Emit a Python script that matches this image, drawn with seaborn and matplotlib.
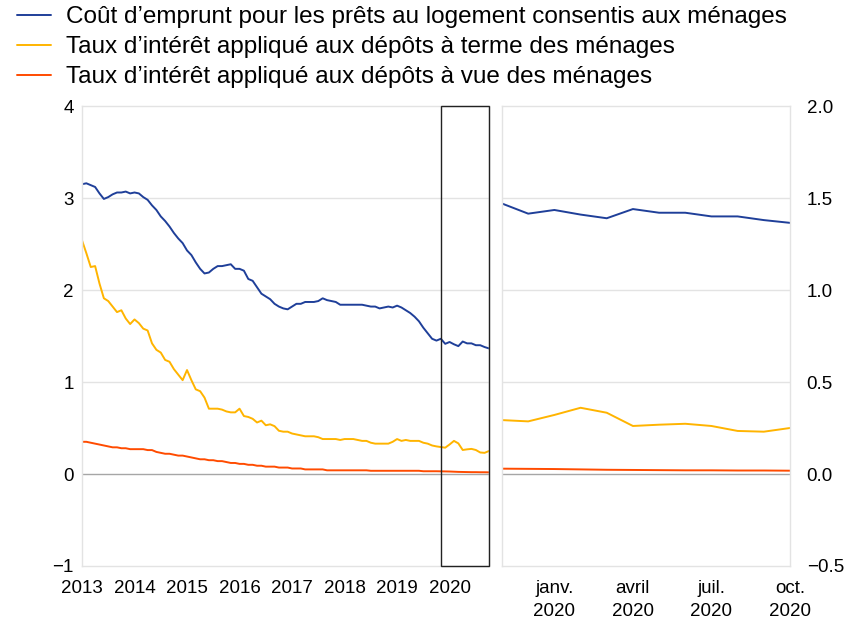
import matplotlib
matplotlib.use("Agg")
import matplotlib.pyplot as plt
from matplotlib.patches import Rectangle
import numpy as np
import pandas as pd
import seaborn as sns

# monthly data, Jan 2013 .. Oct 2020
start_year = 2013
series_names = [
    "Coût d\u2019emprunt pour les prêts au logement consentis aux ménages",
    "Taux d\u2019intérêt appliqué aux dépôts à terme des ménages",
    "Taux d\u2019intérêt appliqué aux dépôts à vue des ménages",
]
colors = ["#1f3f99", "#ffb400", "#ff4b00"]

loans = [
    3.15, 3.16, 3.14, 3.12, 3.05, 2.99, 3.01, 3.04, 3.06, 3.06, 3.07, 3.05,
    3.06, 3.05, 3.01, 2.98, 2.92, 2.87, 2.80, 2.75, 2.69, 2.62, 2.56, 2.51,
    2.43, 2.38, 2.30, 2.23, 2.18, 2.19, 2.23, 2.26, 2.26, 2.27, 2.28, 2.23,
    2.23, 2.21, 2.12, 2.10, 2.03, 1.96, 1.93, 1.90, 1.85, 1.82, 1.80, 1.79,
    1.82, 1.85, 1.85, 1.87, 1.87, 1.87, 1.88, 1.91, 1.89, 1.88, 1.87, 1.84,
    1.84, 1.84, 1.84, 1.84, 1.84, 1.83, 1.82, 1.82, 1.80, 1.81, 1.82, 1.81,
    1.83, 1.81, 1.78, 1.75, 1.71, 1.66, 1.59, 1.53, 1.47, 1.45,
    1.47, 1.415, 1.435, 1.41, 1.39, 1.44, 1.42, 1.42, 1.40, 1.40, 1.38, 1.365,
]
term_deposits = [
    2.54, 2.40, 2.25, 2.26, 2.07, 1.91, 1.88, 1.82, 1.76, 1.78, 1.69, 1.63,
    1.68, 1.64, 1.58, 1.56, 1.42, 1.35, 1.32, 1.24, 1.22, 1.14, 1.08, 1.02,
    1.13, 1.02, 0.92, 0.90, 0.83, 0.71, 0.71, 0.71, 0.70, 0.68, 0.67, 0.67,
    0.71, 0.63, 0.62, 0.60, 0.56, 0.58, 0.53, 0.54, 0.52, 0.47, 0.46, 0.46,
    0.44, 0.43, 0.42, 0.41, 0.41, 0.41, 0.40, 0.38, 0.38, 0.38, 0.38, 0.37,
    0.38, 0.38, 0.38, 0.37, 0.36, 0.36, 0.34, 0.33, 0.33, 0.33, 0.33, 0.35,
    0.38, 0.36, 0.37, 0.36, 0.36, 0.36, 0.34, 0.33, 0.31, 0.30,
    0.293, 0.286, 0.321, 0.36, 0.333, 0.261, 0.268, 0.273, 0.261, 0.234, 0.23, 0.25,
]
overnight_deposits = [
    0.35, 0.35, 0.34, 0.33, 0.32, 0.31, 0.30, 0.29, 0.29, 0.28, 0.28, 0.27,
    0.27, 0.27, 0.27, 0.26, 0.26, 0.24, 0.23, 0.22, 0.22, 0.21, 0.20, 0.20,
    0.19, 0.18, 0.17, 0.16, 0.16, 0.15, 0.15, 0.14, 0.14, 0.13, 0.12, 0.12,
    0.11, 0.11, 0.10, 0.10, 0.09, 0.09, 0.08, 0.08, 0.08, 0.07, 0.07, 0.07,
    0.06, 0.06, 0.06, 0.05, 0.05, 0.05, 0.05, 0.05, 0.04, 0.04, 0.04, 0.04,
    0.04, 0.04, 0.04, 0.04, 0.04, 0.04, 0.035, 0.035, 0.035, 0.035, 0.035, 0.035,
    0.035, 0.035, 0.035, 0.035, 0.035, 0.035, 0.03, 0.03, 0.03, 0.03,
    0.029, 0.028, 0.027, 0.025, 0.023, 0.022, 0.021, 0.02, 0.02, 0.019, 0.019, 0.018,
]

year_ticks = [2013, 2014, 2015, 2016, 2017, 2018, 2019, 2020]
zoom_months = 12  # Nov 2019 .. Oct 2020 shown in the right panel
zoom_tick_pos = [2, 5, 8, 11]
zoom_tick_labels = ["janv.\n2020", "avril\n2020", "juil.\n2020", "oct.\n2020"]

n = len(loans)
t = start_year + np.arange(n) / 12
df = pd.DataFrame({
    "t": np.tile(t, 3),
    "idx": np.tile(np.arange(n), 3),
    "value": loans + term_deposits + overnight_deposits,
    "series": np.repeat(series_names, n),
})
zoom_df = df[df["idx"] >= n - zoom_months].copy()
zoom_df["m"] = zoom_df["idx"] - (n - zoom_months)

sns.set_theme(style="white")
plt.rcParams["font.family"] = ["Liberation Sans", "DejaVu Sans"]
plt.rcParams["text.color"] = "black"

fig = plt.figure(figsize=(8.47, 6.2), dpi=100)
ax1 = fig.add_axes([0.0968, 0.0871, 0.4805, 0.7419])
ax2 = fig.add_axes([0.5927, 0.0871, 0.3400, 0.7419])

palette = dict(zip(series_names, colors))
sns.lineplot(data=df, x="t", y="value", hue="series", palette=palette,
             linewidth=1.4, ax=ax1, legend=False)
sns.lineplot(data=zoom_df, x="m", y="value", hue="series", palette=palette,
             linewidth=1.4, ax=ax2, legend=False)

grid_c = "#e3e3e3"
for ax in (ax1, ax2):
    for s in ax.spines.values():
        s.set_color(grid_c)
        s.set_linewidth(1.0)
    ax.set_xlabel("")
    ax.set_ylabel("")
    ax.tick_params(length=0, labelsize=13.5, colors="black")

ax1.set_xlim(t[0], t[-1])
ax1.set_ylim(-1, 4)
ax1.set_yticks([-1, 0, 1, 2, 3, 4])
ax1.set_xticks(year_ticks)
ax1.set_xticklabels([str(y) for y in year_ticks])
for v in [1, 2, 3]:
    ax1.axhline(v, color=grid_c, lw=1.0, zorder=0)
ax1.axhline(0, color="#a6a6a6", lw=1.0, zorder=0)
ax1.tick_params(axis="y", pad=6)
ax1.tick_params(axis="x", pad=10)

# box marking the zoomed window
x0 = t[n - zoom_months]
ax1.add_patch(Rectangle((x0, -1), t[-1] - x0, 5, fill=False,
                        edgecolor="#222222", lw=1.0, zorder=5, clip_on=False))

ax2.set_xlim(0, zoom_months - 1)
ax2.set_ylim(-0.5, 2.0)
ax2.set_yticks([-0.5, 0.0, 0.5, 1.0, 1.5, 2.0])
ax2.set_yticklabels(["\u22120.5", "0.0", "0.5", "1.0", "1.5", "2.0"])
ax2.yaxis.tick_right()
ax2.tick_params(axis="y", pad=12)
ax2.set_xticks(zoom_tick_pos)
ax2.set_xticklabels(zoom_tick_labels, linespacing=1.5)
ax2.tick_params(axis="x", pad=10)
for v in [0.5, 1.0, 1.5]:
    ax2.axhline(v, color=grid_c, lw=1.0, zorder=0)
ax2.axhline(0, color="#a6a6a6", lw=1.0, zorder=0)

handles = [plt.Line2D([], [], color=c, lw=1.4) for c in colors]
fig.legend(handles, series_names, loc="upper left", bbox_to_anchor=(0.0, 1.017),
           frameon=False, fontsize=17.5, handlelength=1.4, handletextpad=0.6,
           labelspacing=0.32, borderaxespad=0.3)

fig.savefig("out.png", dpi=100)
